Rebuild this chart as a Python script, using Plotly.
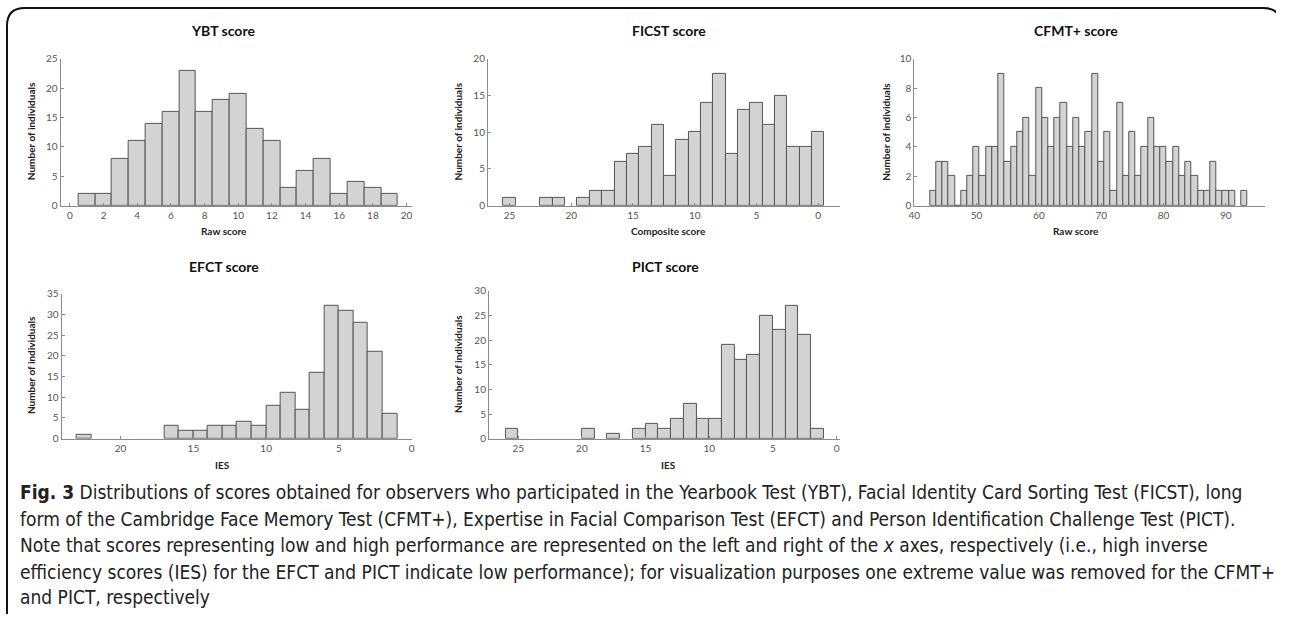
import plotly.graph_objects as go

# page is 1292x630; browser body keeps a default 8px margin, so the figure is
# sized to fit inside it and every page position is shifted by that margin
PAGE_W, PAGE_H, M = 1292, 630, 8
W, H = PAGE_W - 2 * M, PAGE_H - 2 * M

# ---------------- data ----------------
ybt_x = list(range(1, 20))
ybt_y = [2, 2, 8, 11, 14, 16, 23, 16, 18, 19, 13, 11, 3, 6, 8, 2, 4, 3, 2]

ficst_x = [25, 22, 21, 19, 18, 17, 16, 15, 14, 13, 12, 11, 10, 9, 8, 7, 6, 5, 4, 3, 2, 1, 0]
ficst_y = [1, 1, 1, 1, 2, 2, 6, 7, 8, 11, 4, 9, 10, 14, 18, 7, 13, 14, 11, 15, 8, 8, 10]

cfmt_x = list(range(43, 92)) + [93]
cfmt_y = [1, 3, 3, 2, 0, 1, 2, 4, 2, 4, 4, 9, 3, 4, 5, 6, 2, 8, 6, 4, 6, 7, 4, 6, 4, 5,
          9, 3, 5, 1, 7, 2, 5, 2, 4, 6, 4, 4, 3, 4, 2, 3, 2, 1, 1, 3, 1, 1, 1, 1]

efct_x = [22.5, 16.5, 15.5, 14.5, 13.5, 12.5, 11.5, 10.5, 9.5, 8.5, 7.5, 6.5, 5.5, 4.5, 3.5, 2.5, 1.5]
efct_y = [1, 3, 2, 2, 3, 3, 4, 3, 8, 11, 7, 16, 32, 31, 28, 21, 6]

pict_x = [25.5, 19.5, 17.5, 15.5, 14.5, 13.5, 12.5, 11.5, 10.5, 9.5, 8.5, 7.5, 6.5, 5.5, 4.5, 3.5, 2.5, 1.5]
pict_y = [2, 2, 1, 2, 3, 2, 4, 7, 4, 4, 19, 16, 17, 25, 22, 27, 21, 2]

titles = ["YBT score", "FICST score", "CFMT+ score", "EFCT score", "PICT score"]
xtitles = ["Raw score", "Composite score", "Raw score", "IES", "IES"]
ytitle = "Number of individuals"

caption_lines = [
    "<b>Fig. 3</b> Distributions of scores obtained for observers who participated in the Yearbook Test (YBT), Facial Identity Card Sorting Test (FICST), long",
    "form of the Cambridge Face Memory Test (CFMT+), Expertise in Facial Comparison Test (EFCT) and Person Identification Challenge Test (PICT).",
    "Note that scores representing low and high performance are represented on the left and right of the <i>x</i> axes, respectively (i.e., high inverse",
    "efficiency scores (IES) for the EFCT and PICT indicate low performance); for visualization purposes one extreme value was removed for the CFMT+",
    "and PICT, respectively",
]

# ---------------- helpers (page pixels -> paper) ----------------
def px(v):
    return (v - M) / W

def py(v):
    return 1 - (v - M) / H

FONT = "Lato, 'Noto Sans', sans-serif"
CAPFONT = "'Liberation Sans Narrow', 'DejaVu Sans Condensed', sans-serif"
FILL = "#d3d3d3"
EDGE = "#555555"
AX = "#8c8c8c"
TXT = "#555555"

series = [(ybt_x, ybt_y), (ficst_x, ficst_y), (cfmt_x, cfmt_y), (efct_x, efct_y), (pict_x, pict_y)]

# page-pixel boxes of plot areas: (left, right, top, bottom)
boxes = [(63, 417, 61, 211), (493, 847, 61, 211), (922, 1275, 61, 211),
         (64, 417, 301, 449), (494, 847, 298, 449)]
xranges = [[-0.55, 20.35], [26.75, -1.75], [40, 96.3], [24.05, -0.05], [27.3, -0.25]]
yranges = [[0, 25], [0, 20], [0, 10], [0, 35], [0, 30]]
xtickvals = [list(range(0, 21, 2)), list(range(0, 26, 5)), list(range(40, 91, 10)),
             list(range(0, 21, 5)), list(range(0, 26, 5))]
ydticks = [5, 5, 2, 5, 5]
title_pos = [(226, 32), (675, 32), (1085, 32), (227, 273), (672, 273)]
xtitle_pos = [(227, 237), (675, 237), (1085, 237), (226, 476), (675, 476)]
ylab_x = [33, 463, 894, 33, 463]

fig = go.Figure()
layout = dict()
annotations = []

for i, ((xs, ys), box) in enumerate(zip(series, boxes)):
    n = "" if i == 0 else str(i + 1)
    fig.add_trace(go.Bar(
        x=xs, y=ys, width=1.0,
        marker=dict(color=FILL, line=dict(color=EDGE, width=1)),
        xaxis="x" + n, yaxis="y" + n, showlegend=False, hoverinfo="x+y",
    ))
    l, r, t, b = box
    layout["xaxis" + n] = dict(
        domain=[px(l), px(r)], anchor="y" + n, range=xranges[i],
        tickmode="array", tickvals=xtickvals[i],
        showline=True, linecolor=AX, linewidth=1, ticks="inside", ticklen=3,
        tickcolor=AX, showgrid=False, zeroline=False,
        tickfont=dict(family=FONT, size=10, color=TXT),
    )
    layout["yaxis" + n] = dict(
        domain=[py(b), py(t)], anchor="x" + n, range=yranges[i],
        dtick=ydticks[i], tick0=0,
        showline=True, linecolor=AX, linewidth=1, ticks="inside", ticklen=3,
        tickcolor=AX, showgrid=False, zeroline=False,
        tickfont=dict(family=FONT, size=10, color=TXT),
    )
    annotations.append(dict(text="<b>%s</b>" % titles[i], x=px(title_pos[i][0]), y=py(title_pos[i][1]),
                            xref="paper", yref="paper", showarrow=False, xanchor="center", yanchor="middle",
                            font=dict(family=FONT, size=14, color="#111111")))
    annotations.append(dict(text="<b>%s</b>" % xtitles[i], x=px(xtitle_pos[i][0]), y=py(xtitle_pos[i][1]),
                            xref="paper", yref="paper", showarrow=False, xanchor="center", yanchor="middle",
                            font=dict(family=FONT, size=10, color="#222222")))
    annotations.append(dict(text="<b>%s</b>" % ytitle, x=px(ylab_x[i]), y=py((t + b) / 2 - 1),
                            xref="paper", yref="paper", showarrow=False, xanchor="center", yanchor="middle",
                            textangle=-90, font=dict(family=FONT, size=10, color="#222222")))

cap_y = [504, 531, 558, 585, 611]
for line, yy in zip(caption_lines, cap_y):
    annotations.append(dict(text=line, x=px(20), y=py(yy), xref="paper", yref="paper",
                            showarrow=False, xanchor="left", yanchor="middle",
                            font=dict(family=CAPFONT, size=19, color="#222222")))

# rounded frame (page pixels)
x0, x1, y0, y1, rr = 9, 1291, 9, 660, 18
path = (f"M {px(x0)},{py(y1)} L {px(x0)},{py(y0 + rr)} Q {px(x0)},{py(y0)} {px(x0 + rr)},{py(y0)} "
        f"L {px(x1 - rr)},{py(y0)} Q {px(x1)},{py(y0)} {px(x1)},{py(y0 + rr)} L {px(x1)},{py(y1)}")
shapes = [dict(type="path", path=path, xref="paper", yref="paper",
               line=dict(color="#111111", width=2))]

fig.update_layout(
    width=W, height=H, margin=dict(l=0, r=0, t=0, b=0),
    paper_bgcolor="white", plot_bgcolor="white",
    bargap=0, annotations=annotations, shapes=shapes, **layout,
)

fig.write_html("out.html")
